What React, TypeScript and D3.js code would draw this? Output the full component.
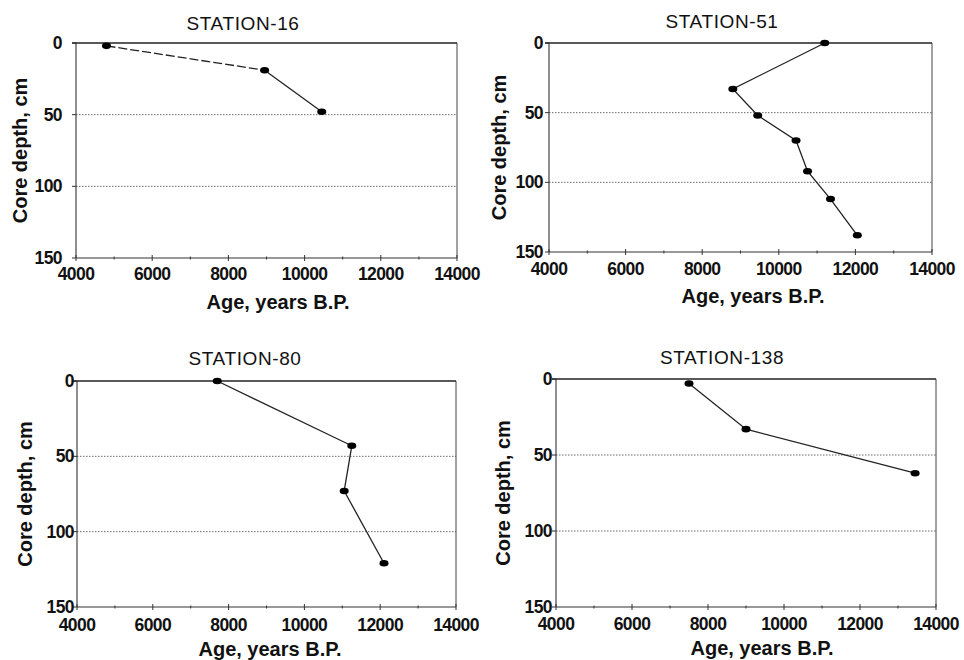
import * as d3 from "d3";

// axis values
const ageDomain: [number, number] = [4000, 14000];
const depthDomain: [number, number] = [0, 150];
const xMajorTicks = [4000, 6000, 8000, 10000, 12000, 14000];
const xMinorTicks = [5000, 7000, 9000, 11000, 13000];
const yTicks = [0, 50, 100, 150];
const gridDepths = [50, 100];

// station data: age (years B.P.) vs core depth (cm)
const station16Age = [4800, 8950, 10450];
const station16Depth = [2, 19, 48];
const station51Age = [11200, 8800, 9450, 10450, 10750, 11350, 12050];
const station51Depth = [0, 33, 52, 70, 92, 112, 138];
const station80Age = [7700, 11250, 11050, 12100];
const station80Depth = [0, 43, 73, 121];
const station138Age = [7500, 9000, 13450];
const station138Depth = [3, 33, 62];

const stationNames = ["STATION-16", "STATION-51", "STATION-80", "STATION-138"];

const FONT = "'Liberation Sans', Arial, Helvetica, sans-serif";

type Box = {
  l: number;
  t: number;
  r: number;
  b: number;
  titleX: number;
  titleY: number;
  tickY: number;
  labelX: number;
  labelY: number;
  yLabelX: number;
  yTickR: number;
};

const layouts: Box[] = [
  { l: 76, t: 43, r: 457, b: 258, titleX: 243, titleY: 30, tickY: 280, labelX: 278, labelY: 309, yLabelX: 20, yTickR: 62 },
  { l: 549, t: 43, r: 932, b: 252, titleX: 722, titleY: 28, tickY: 275, labelX: 753, labelY: 303, yLabelX: 499, yTickR: 543 },
  { l: 77, t: 381, r: 456, b: 607, titleX: 245, titleY: 365, tickY: 631, labelX: 270, labelY: 656, yLabelX: 25, yTickR: 74 },
  { l: 556, t: 379, r: 936, b: 607, titleX: 722, titleY: 364, tickY: 630, labelX: 762, labelY: 655, yLabelX: 503, yTickR: 552 },
];

const Panel = ({
  box,
  title,
  ages,
  depths,
  dashFirst = false,
}: {
  box: Box;
  title: string;
  ages: number[];
  depths: number[];
  dashFirst?: boolean;
}) => {
  const x = d3.scaleLinear().domain(ageDomain).range([box.l, box.r]);
  const y = d3.scaleLinear().domain(depthDomain).range([box.t, box.b]);
  const pts: [number, number][] = ages.map((a, i) => [a, depths[i]]);
  const line = d3
    .line<[number, number]>()
    .x((d) => x(d[0]))
    .y((d) => y(d[1]));

  return (
    <g fontFamily={FONT} fill="#111">
      <text x={box.titleX} y={box.titleY} textAnchor="middle" fontSize={19} letterSpacing={0.6}>
        {title}
      </text>

      {/* dotted grid */}
      {gridDepths.map((d) => (
        <line
          key={d}
          x1={box.l}
          x2={box.r}
          y1={y(d)}
          y2={y(d)}
          stroke="#444"
          strokeWidth={0.8}
          strokeDasharray="1.5,1.5"
        />
      ))}

      {/* frame */}
      <line x1={box.l} x2={box.l} y1={box.t} y2={box.b} stroke="#333" strokeWidth={1.1} />
      <line x1={box.r} x2={box.r} y1={box.t} y2={box.b} stroke="#444" strokeWidth={1} />
      <line x1={box.l - 4} x2={box.r} y1={box.t} y2={box.t} stroke="#222" strokeWidth={1.5} />
      <line x1={box.l} x2={box.r} y1={box.b} y2={box.b} stroke="#333" strokeWidth={1.2} />

      {/* y ticks */}
      {yTicks.map((t) => (
        <g key={t}>
          <line x1={box.l - 4} x2={box.l} y1={y(t)} y2={y(t)} stroke="#333" />
          <text
            x={box.yTickR}
            y={y(t)}
            textAnchor="end"
            dominantBaseline="central"
            fontSize={17.5}
            letterSpacing={-0.6}
            fontWeight="bold"
          >
            {t}
          </text>
        </g>
      ))}

      {/* x ticks */}
      {xMajorTicks.map((t) => (
        <g key={t}>
          <line x1={x(t)} x2={x(t)} y1={box.b - 3} y2={box.b + 3} stroke="#333" />
          <text
            x={x(t)}
            y={box.tickY}
            textAnchor="middle"
            fontSize={17.5}
            letterSpacing={-0.6}
            fontWeight="bold"
          >
            {t}
          </text>
        </g>
      ))}
      {xMinorTicks.map((t) => (
        <line key={t} x1={x(t)} x2={x(t)} y1={box.b - 1.5} y2={box.b + 1.5} stroke="#333" />
      ))}

      <text x={box.labelX} y={box.labelY} textAnchor="middle" fontSize={20} fontWeight="bold">
        Age, years B.P.
      </text>
      <text
        transform={`translate(${box.yLabelX},${(box.t + box.b) / 2}) rotate(-90)`}
        textAnchor="middle"
        dominantBaseline="central"
        fontSize={20}
        fontWeight="bold"
      >
        Core depth, cm
      </text>

      {/* series */}
      {dashFirst ? (
        <>
          <path d={line(pts.slice(0, 2)) ?? ""} fill="none" stroke="#222" strokeWidth={1.3} strokeDasharray="9,3" />
          <path d={line(pts.slice(1)) ?? ""} fill="none" stroke="#222" strokeWidth={1.3} />
        </>
      ) : (
        <path d={line(pts) ?? ""} fill="none" stroke="#222" strokeWidth={1.3} />
      )}
      {pts.map((p, i) => (
        <ellipse key={i} cx={x(p[0])} cy={y(p[1])} rx={4.5} ry={3.3} fill="#000" />
      ))}
    </g>
  );
};

export default function App() {
  return (
    <svg
      width={964}
      height={660}
      style={{ position: "absolute", left: 0, top: 0, background: "#fff" }}
    >
      <rect width={964} height={660} fill="#fff" />
      <Panel box={layouts[0]} title={stationNames[0]} ages={station16Age} depths={station16Depth} dashFirst />
      <Panel box={layouts[1]} title={stationNames[1]} ages={station51Age} depths={station51Depth} />
      <Panel box={layouts[2]} title={stationNames[2]} ages={station80Age} depths={station80Depth} />
      <Panel box={layouts[3]} title={stationNames[3]} ages={station138Age} depths={station138Depth} />
    </svg>
  );
}
